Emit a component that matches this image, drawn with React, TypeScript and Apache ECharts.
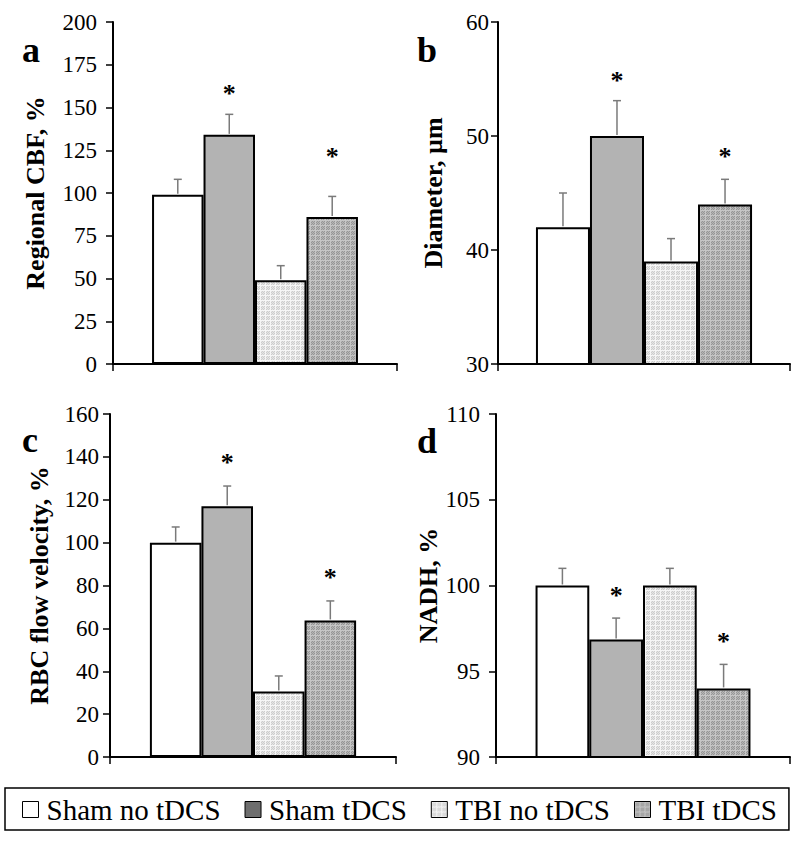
import React, { useEffect, useRef } from "react";
import * as echarts from "echarts";

const groups = ["Sham no tDCS", "Sham tDCS", "TBI no tDCS", "TBI tDCS"];
const panelLetters = ["a", "b", "c", "d"];
const axisNames = ["Regional CBF, %", "Diameter, µm", "RBC flow velocity, %", "NADH, %"];

const cbfMean = [99, 134, 49, 86];
const cbfErr = [9, 12, 8.5, 12];
const cbfSig = [null, 161, null, 124];

const diamMean = [42, 50, 39, 44];
const diamErr = [3, 3.1, 2, 2.2];
const diamSig = [null, 55.3, null, 48.6];

const rbcMean = [100, 117, 30.5, 63.7];
const rbcErr = [7.3, 9.4, 7.3, 9.1];
const rbcSig = [null, 139.7, null, 86.1];

const nadhMean = [100, 96.85, 100, 94];
const nadhErr = [1, 1.25, 1, 1.4];
const nadhSig = [null, 99.7, null, 97.0];

const yMins = [0, 30, 0, 90];
const yMaxs = [200, 60, 160, 110];
const yIntervals = [25, 10, 20, 5];

const SERIF = "'Liberation Serif', 'Times New Roman', serif";

function makePattern(base: string, a: string, b: string, line: string) {
  const c = document.createElement("canvas");
  c.width = 5;
  c.height = 5;
  const ctx = c.getContext("2d")!;
  ctx.fillStyle = base;
  ctx.fillRect(0, 0, 5, 5);
  for (let x = 0; x < 5; x++) {
    for (let y = 0; y < 5; y++) {
      ctx.fillStyle = (x + y) % 2 === 0 ? a : b;
      ctx.fillRect(x, y, 1, 1);
      if (x === 0 || y === 0) {
        ctx.fillStyle = line;
        ctx.fillRect(x, y, 1, 1);
      }
    }
  }
  return c;
}

export default function App() {
  const ref = useRef<HTMLDivElement>(null);
  useEffect(() => {
    if (!ref.current) return;
    const chart = echarts.init(ref.current, null, { renderer: "svg" });

    const lightPat = makePattern("#dcdcdc", "#e6e6e6", "#cdcdcd", "#f6f6f6");
    const darkPat = makePattern("#a8a8a8", "#b6b6b6", "#969696", "#c6c6c6");
    const fills: any[] = [
      "#ffffff",
      "#b3b3b3",
      { image: lightPat, repeat: "repeat" },
      { image: darkPat, repeat: "repeat" },
    ];

    const means = [cbfMean, diamMean, rbcMean, nadhMean];
    const errs = [cbfErr, diamErr, rbcErr, nadhErr];
    const sigs = [cbfSig, diamSig, rbcSig, nadhSig];

    const grids = [
      { left: 113, top: 22, width: 284, height: 342 },
      { left: 498, top: 22, width: 292, height: 342 },
      { left: 110, top: 414, width: 286, height: 343 },
      { left: 496, top: 414, width: 294, height: 343 },
    ];
    const gaps = [0.275, 0.26, 0.279, 0.269];
    const labelMargins = [16, 9, 11, 16];
    const nameGaps = [65, 52, 58, 49];
    const letterPos = [
      [22, 32],
      [417, 32],
      [22, 422],
      [417, 423],
    ];

    const series: any[] = [];
    for (let p = 0; p < 4; p++) {
      for (let g = 0; g < 4; g++) {
        series.push({
          type: "bar",
          name: groups[g],
          xAxisIndex: p,
          yAxisIndex: p,
          data: [means[p][g]],
          barGap: "0%",
          barCategoryGap: (gaps[p] * 100).toFixed(1) + "%",
          itemStyle: { color: fills[g], borderColor: "#000", borderWidth: 2 },
          z: 2,
        });
      }
      const gap = gaps[p];
      series.push({
        type: "custom",
        name: "err" + p,
        xAxisIndex: p,
        yAxisIndex: p,
        z: 5,
        data: means[p].map((m, g) => [0, m, errs[p][g], g, sigs[p][g] == null ? NaN : sigs[p][g]]),
        encode: { x: 0, y: 1 },
        renderItem: (params: any, api: any) => {
          const mean = api.value(1);
          const err = api.value(2);
          const gi = api.value(3);
          const sig = api.value(4);
          const band = api.size([1, 0])[0];
          const barW = (band * (1 - gap)) / 4;
          const c0 = api.coord([0, mean]);
          const cx = c0[0] - 2 * barW + (gi + 0.5) * barW;
          const yMean = c0[1];
          const yTop = api.coord([0, mean + err])[1];
          const children: any[] = [
            {
              type: "line",
              shape: { x1: cx, y1: yMean - 1, x2: cx, y2: yTop },
              style: { stroke: "#7a7a7a", lineWidth: 1.5 },
            },
            {
              type: "line",
              shape: { x1: cx - 4, y1: yTop, x2: cx + 4, y2: yTop },
              style: { stroke: "#7a7a7a", lineWidth: 1.5 },
            },
          ];
          if (!isNaN(sig)) {
            const ys = api.coord([0, sig])[1];
            children.push({
              type: "text",
              x: cx,
              y: ys + 5,
              style: {
                text: "*",
                fontFamily: SERIF,
                fontWeight: "bold",
                fontSize: 26,
                fill: "#000",
                align: "center",
                verticalAlign: "middle",
              },
            });
          }
          return { type: "group", children };
        },
      });
    }

    const option: any = {
      animation: false,
      backgroundColor: "#ffffff",
      grid: grids.map((g) => ({ ...g, containLabel: false, outerBoundsMode: "none" })),
      xAxis: grids.map((_, p) => ({
        type: "category",
        gridIndex: p,
        data: [""],
        axisLine: { show: true, lineStyle: { color: "#000", width: 2 } },
        axisTick: { show: true, length: 7, lineStyle: { color: "#000", width: 1.5 } },
        axisLabel: { show: false },
        splitLine: { show: false },
      })),
      yAxis: grids.map((_, p) => ({
        type: "value",
        gridIndex: p,
        min: yMins[p],
        max: yMaxs[p],
        interval: yIntervals[p],
        name: axisNames[p],
        nameLocation: "middle",
        nameRotate: 90,
        nameGap: nameGaps[p],
        nameTextStyle: { fontFamily: SERIF, fontWeight: "bold", fontSize: 26, color: "#000" },
        axisLine: { show: true, lineStyle: { color: "#000", width: 2 } },
        axisTick: { show: true, length: 7, lineStyle: { color: "#000", width: 1.5 } },
        axisLabel: { fontFamily: SERIF, fontSize: 23, color: "#000", margin: labelMargins[p] },
        splitLine: { show: false },
      })),
      legend: {
        left: 5,
        top: 788,
        orient: "horizontal",
        data: groups.map((n, g) =>
          g === 1 ? { name: n, itemStyle: { color: "#6e6e6e" } } : { name: n }
        ),
        icon: "rect",
        itemWidth: 16,
        itemHeight: 16,
        itemGap: 24,
        itemStyle: { borderColor: "#000", borderWidth: 1 },
        textStyle: { fontFamily: SERIF, fontSize: 29, color: "#000", padding: [0, 0, 0, 3] },
        padding: [7, 12, 6, 17],
        borderColor: "#000",
        borderWidth: 1.5,
        selectedMode: false,
      },
      graphic: panelLetters.map((t, i) => ({
        type: "text",
        x: letterPos[i][0],
        y: letterPos[i][1],
        style: {
          text: t,
          fontFamily: SERIF,
          fontWeight: "bold",
          fontSize: 36,
          fill: "#000",
          verticalAlign: "alphabetic",
        },
      })),
      series,
    };
    chart.setOption(option);
    return () => chart.dispose();
  }, []);

  return (
    <div
      ref={ref}
      style={{ position: "fixed", left: 0, top: 0, width: 800, height: 841, background: "#fff" }}
    />
  );
}
